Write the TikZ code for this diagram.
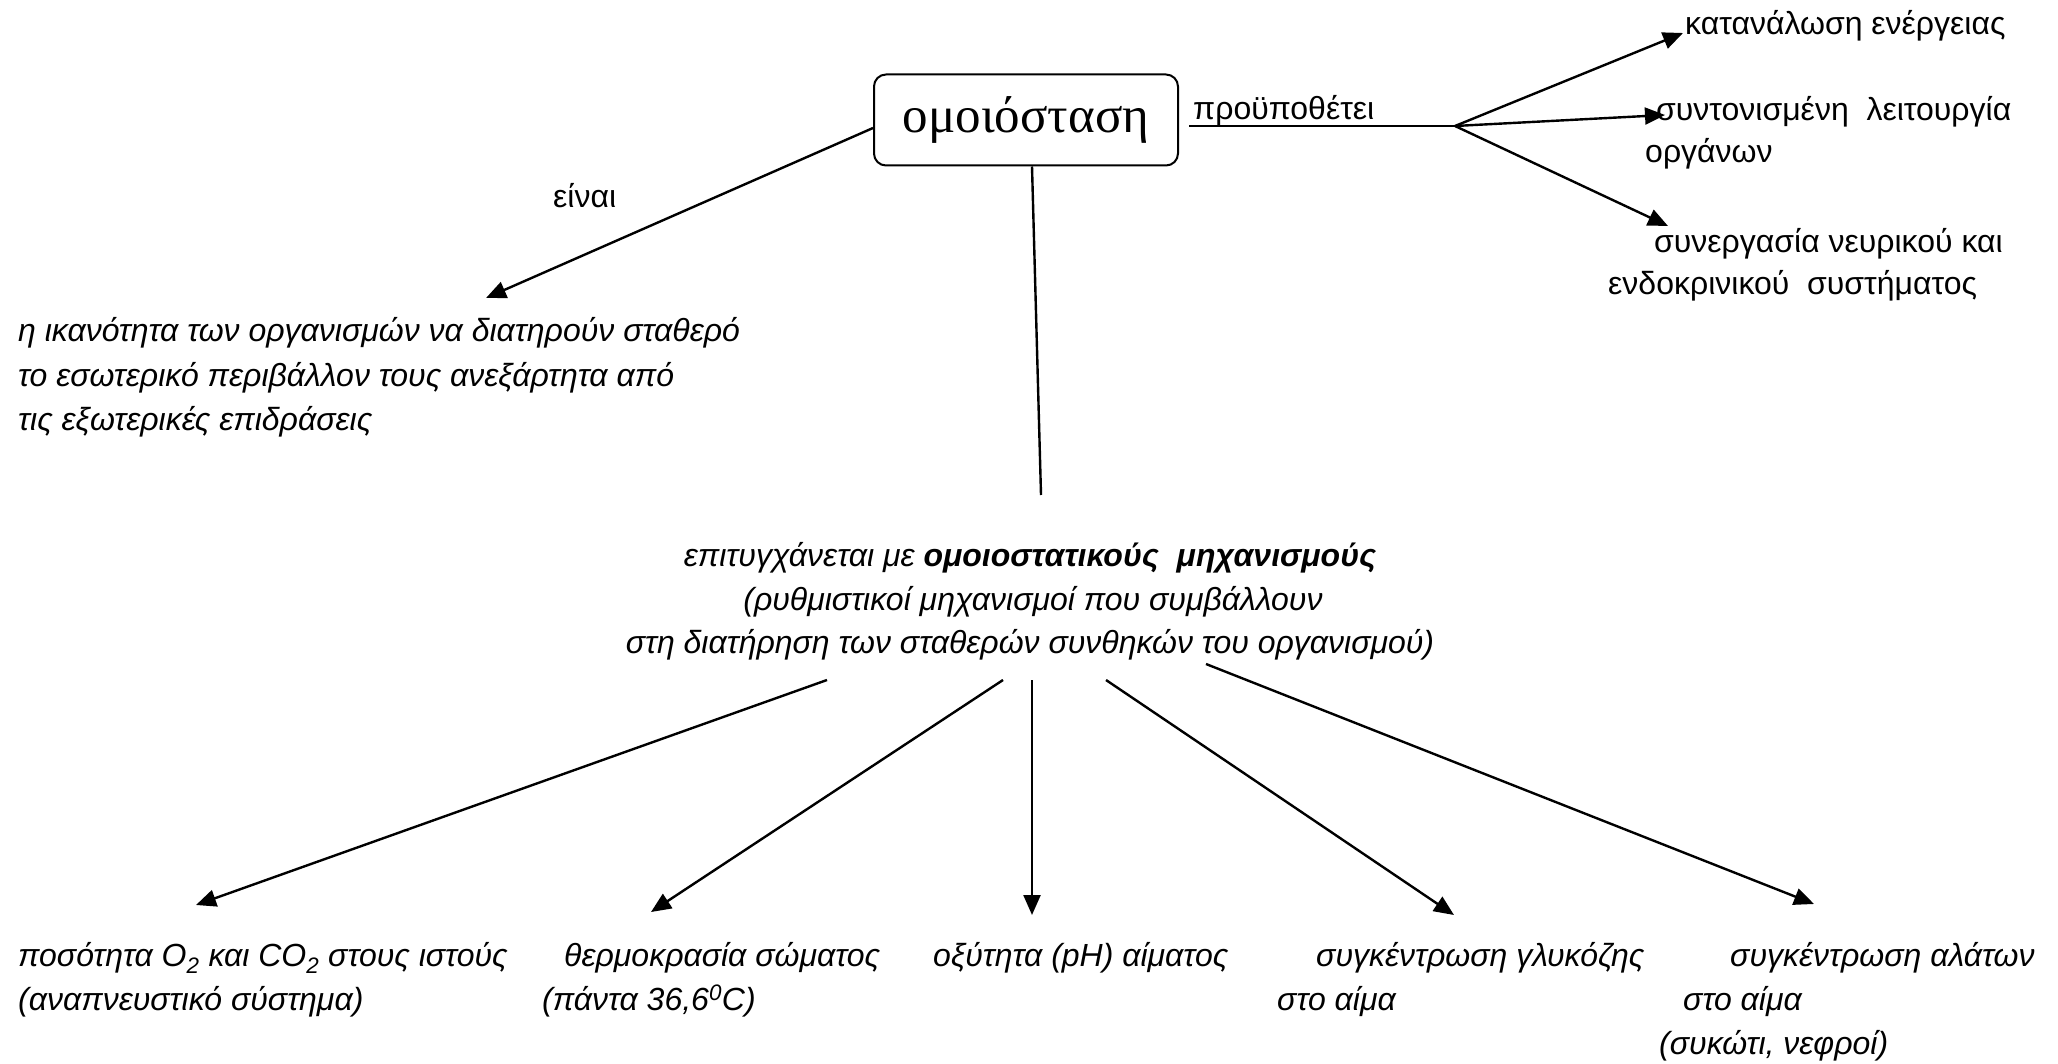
\documentclass[tikz,border=0pt]{standalone}
\usepackage{fontspec}
\setmainfont{Liberation Sans}
\newfontfamily\titlefont{Liberation Serif}
\usetikzlibrary{arrows.meta}

\begin{document}
\begin{tikzpicture}[x=1pt,y=-1pt,
  lbl/.style={inner sep=0pt, anchor=base west, font=\fontsize{32}{36}\selectfont},
  itl/.style={inner sep=0pt, anchor=base west, font=\fontsize{32}{36}\selectfont\itshape},
  itc/.style={inner sep=0pt, anchor=base, font=\fontsize{32}{36}\selectfont\itshape},
  conn/.style={line width=2.4pt},
  arr/.style={conn, -{Triangle[length=20pt,width=17pt]}}]
\useasboundingbox (0,0) rectangle (2058,1064);

% central concept
\node[draw, line width=2pt, rounded corners=12pt, minimum width=304pt,
      minimum height=91pt, inner sep=0pt,
      font=\titlefont\fontsize{51}{51}\selectfont] (box) at (1026,120) {ομοιόσταση};

% right branch: requirements
\node[lbl] (req) at (1193,120) {προϋποθέτει};
\coordinate (fork) at (1455,126);
\coordinate (tipR1) at (1683,33);
\coordinate (tipR2) at (1665,115);
\coordinate (tipR3) at (1668,226);
\node[lbl] (r1) at (1685,35) {κατανάλωση ενέργειας};
\node[lbl] (r2a) at (1656,121) {συντονισμένη\ \ λειτουργία};
\node[lbl] (r2b) at (1645,163) {οργάνων};
\node[lbl] (r3a) at (1654,253) {συνεργασία νευρικού και};
\node[lbl] (r3b) at (1608,295) {ενδοκρινικού\ \ συστήματος};
\draw[conn] ([xshift=10pt,yshift=-6pt]box.east) -- (fork);
\draw[arr] (fork) -- (tipR1);
\draw[arr] (fork) -- (tipR2);
\draw[arr] (fork) -- (tipR3);

% left branch: definition
\coordinate (tipL) at (486,298);
\node[lbl] (is) at (553,208) {είναι};
\node[itl] (d1) at (18,342) {η ικανότητα των οργανισμών να διατηρούν σταθερό};
\node[itl] (d2) at (18,386) {το εσωτερικό περιβάλλον τους ανεξάρτητα από};
\node[itl] (d3) at (18,430) {τις εξωτερικές επιδράσεις};
\draw[arr] ([yshift=-8pt]box.west) -- (tipL);

% downward branch: mechanisms
\coordinate (mid) at (1041,495);
\draw[conn] ([xshift=6pt]box.south) -- (mid);
\node[itc] (m1) at (1030,566) {επιτυγχάνεται με \textbf{ομοιοστατικούς\ \ μηχανισμούς}};
\node[itc] (m2) at (1033,610) {(ρυθμιστικοί μηχανισμοί που συμβάλλουν};
\node[itc] (m3) at (1030,653) {στη διατήρηση των σταθερών συνθηκών του οργανισμού)};

% regulated quantities
\coordinate (s1) at (827,680);  \coordinate (t1) at (196,905);
\coordinate (s2) at (1003,680); \coordinate (t2) at (651,912);
\coordinate (s3) at (1032,680); \coordinate (t3) at (1032,915);
\coordinate (s4) at (1106,680); \coordinate (t4) at (1454,915);
\coordinate (s5) at (1206,664); \coordinate (t5) at (1814,904);
\foreach \i in {1,...,5} \draw[arr] (s\i) -- (t\i);

\node[itl] (q1a) at (18,966) {ποσότητα O\textsubscript{2} και CO\textsubscript{2} στους ιστούς};
\node[itl] (q1b) at (18,1010) {(αναπνευστικό σύστημα)};
\node[itl] (q2a) at (564,966) {θερμοκρασία σώματος};
\node[itl] (q2b) at (542,1010) {(πάντα 36,6\textsuperscript{0}C)};
\node[itl] (q3a) at (933,966) {οξύτητα (pH) αίματος};
\node[itl] (q4a) at (1316,966) {συγκέντρωση γλυκόζης};
\node[itl] (q4b) at (1277,1010) {στο αίμα};
\node[itl] (q5a) at (1730,966) {συγκέντρωση αλάτων};
\node[itl] (q5b) at (1683,1010) {στο αίμα};
\node[itl] (q5c) at (1659,1054) {(συκώτι, νεφροί)};
\end{tikzpicture}
\end{document}
